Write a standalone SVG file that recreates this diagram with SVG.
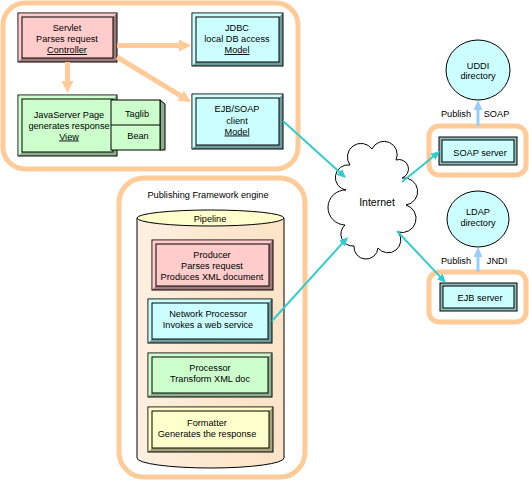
<svg xmlns="http://www.w3.org/2000/svg" width="529" height="480" viewBox="0 0 529 480">
<defs>
<style>
text{font-family:"Liberation Sans",Arial,sans-serif;font-size:9.2px;text-anchor:middle;fill:#000}
.u{text-decoration:underline}
.cont{fill:none;stroke:#FFCC99;stroke-width:5}
.ln{stroke:#000;stroke-width:1}
.pk{fill:#FFCCCC}.pkd{fill:#A07A7A}
.cy{fill:#CCFFFF}.cyd{fill:#6E9C9C}
.gr{fill:#CCFFCC}.grd{fill:#8DAF8D}
.ye{fill:#FFFFCC}.yed{fill:#A3A37A}
.pa{stroke:#FFCC99;stroke-width:5;fill:none}
.ca{stroke:#33CCCC;stroke-width:2;fill:none}
.ba{stroke:#99CCFF;stroke-width:3;fill:none}
</style>
<marker id="mp" markerUnits="userSpaceOnUse" markerWidth="12" markerHeight="12" refX="4" refY="6" orient="auto"><path d="M0,0 L12,6 L0,12 z" fill="#FFCC99"/></marker>
<marker id="mc" markerUnits="userSpaceOnUse" markerWidth="9" markerHeight="8" refX="2" refY="4" orient="auto"><path d="M0,0 L9,4 L0,8 z" fill="#33CCCC"/></marker>
<marker id="mb" markerUnits="userSpaceOnUse" markerWidth="10" markerHeight="9" refX="3" refY="4.5" orient="auto"><path d="M0,0 L10,4.5 L0,9 z" fill="#99CCFF"/></marker>
<linearGradient id="cyl" x1="0" y1="0" x2="1" y2="0"><stop offset="0" stop-color="#FEF0E0"/><stop offset="0.5" stop-color="#FCE8D0"/><stop offset="1" stop-color="#FBE4C8"/></linearGradient>
</defs>

<g id="containers">
<rect class="cont" x="3" y="3" width="295" height="166" rx="22"/>
<rect class="cont" x="119" y="178" width="186" height="299" rx="25"/>
<rect class="cont" x="429" y="126" width="97" height="49" rx="10"/>
<rect class="cont" x="429" y="272" width="97" height="50" rx="10"/>
</g>

<g id="servlet">
<rect class="pkd ln" x="18" y="13" width="99" height="49"/>
<polygon class="pk" points="18.5,13.5 116.5,13.5 113,17 22,17 22,58 18.5,61.5"/>
<rect class="pk ln" x="22" y="17" width="91" height="41"/>
<text x="67" y="30.5">Servlet</text>
<text x="67" y="42">Parses request</text>
<text x="67" y="53" class="u">Controller</text>
</g>

<g id="jdbc">
<rect class="cyd ln" x="192" y="13" width="91" height="53"/>
<polygon class="cy" points="192.5,13.5 282.5,13.5 279,17 196,17 196,62 192.5,65.5"/>
<rect class="cy ln" x="196" y="17" width="83" height="45"/>
<text x="237" y="30.5">JDBC</text>
<text x="237" y="42">local DB access</text>
<text x="237" y="53" class="u">Model</text>
</g>

<g id="ejbsoap">
<rect class="cyd ln" x="192" y="94" width="91" height="55"/>
<polygon class="cy" points="192.5,94.5 282.5,94.5 279,98 196,98 196,145 192.5,148.5"/>
<rect class="cy ln" x="196" y="98" width="83" height="47"/>
<text x="237" y="112">EJB/SOAP</text>
<text x="237" y="123.5">client</text>
<text x="237" y="134.5" class="u">Model</text>
</g>

<g id="jsp">
<rect class="grd ln" x="18" y="95" width="99" height="61"/>
<polygon class="gr" points="18.5,95.5 116.5,95.5 113,99 22,99 22,152 18.5,155.5"/>
<rect class="gr ln" x="22" y="99" width="91" height="53"/>
<text x="69" y="117.5">JavaServer Page</text>
<text x="69" y="128.5">generates response</text>
<text x="69" y="139.5" class="u">View</text>
</g>

<g id="taglib">
<polygon class="grd ln" points="160,100 165,104 165,150 160,150"/>
<rect class="gr ln" x="111" y="100" width="49" height="50"/>
<line class="ln" x1="111" y1="125" x2="160" y2="125"/>
<text x="137" y="117">Taglib</text>
<text x="138" y="139">Bean</text>
</g>

<g id="engine">
<text x="208" y="198">Publishing Framework engine</text>
<path d="M137,218 L137,458 A73.5,10 0 0 0 284,458 L284,218 Z" fill="url(#cyl)" stroke="#000" stroke-width="1"/>
<ellipse cx="210.5" cy="218" rx="73.5" ry="8" class="ye ln"/>
<text x="210" y="221.5">Pipeline</text>
</g>

<g id="producer">
<rect class="pkd ln" x="152" y="240" width="121" height="50"/>
<polygon class="pk" points="152.5,240.5 272.5,240.5 269,244 156,244 156,286 152.5,289.5"/>
<rect class="pk ln" x="156" y="244" width="113" height="42"/>
<text x="212" y="257.5">Producer</text>
<text x="212" y="268.5">Parses request</text>
<text x="212" y="279.5">Produces XML document</text>
</g>

<g id="netproc">
<rect class="cyd ln" x="148" y="299" width="124" height="44"/>
<polygon class="cy" points="148.5,299.5 271.5,299.5 268,303 152,303 152,339 148.5,342.5"/>
<rect class="cy ln" x="152" y="303" width="116" height="36"/>
<text x="208" y="316.5">Network Processor</text>
<text x="208" y="327.5">Invokes a web service</text>
</g>

<g id="processor">
<rect class="grd ln" x="148" y="353" width="124" height="44"/>
<polygon class="gr" points="148.5,353.5 271.5,353.5 268,357 152,357 152,393 148.5,396.5"/>
<rect class="gr ln" x="152" y="357" width="116" height="36"/>
<text x="210" y="371">Processor</text>
<text x="210" y="382">Transform XML doc</text>
</g>

<g id="formatter">
<rect class="yed ln" x="148" y="407" width="125" height="45"/>
<polygon class="ye" points="148.5,407.5 272.5,407.5 269,411 152,411 152,448 148.5,451.5"/>
<rect class="ye ln" x="152" y="411" width="117" height="37"/>
<text x="207" y="425.5">Formatter</text>
<text x="207" y="436.5">Generates the response</text>
</g>

<g id="internet">
<path d="M350,165 A13,13 0 0 1 372,149 A12,12 0 0 1 396,160 A9,9 0 0 1 402,178 A12,12 0 0 1 406,205 A10,10 0 0 1 398,232 A12,12 0 0 1 378,248 A12,12 0 0 1 354,246 A12,12 0 0 1 345,225 A14,14 0 0 1 346,190 A12,12 0 0 1 350,165 Z" fill="#fff" stroke="#000" stroke-width="1"/>
<text x="377" y="205.5" style="font-size:10.5px">Internet</text>
</g>

<g id="uddi">
<ellipse cx="478" cy="70" rx="32" ry="30" class="cy ln"/>
<text x="478" y="68.5">UDDI</text>
<text x="478" y="79">directory</text>
</g>

<g id="ldap">
<ellipse cx="478" cy="219" rx="31" ry="28" class="cy ln"/>
<text x="478" y="214.5">LDAP</text>
<text x="478" y="225.5">directory</text>
</g>

<g id="soapserver">
<rect x="439" y="137" width="78" height="28" fill="#8FBFBF" class="ln"/>
<rect x="442" y="140" width="72" height="22" class="cy ln"/>
<text x="480" y="155.5">SOAP server</text>
</g>

<g id="ejbserver">
<rect x="440" y="283" width="77" height="28" fill="#8FBFBF" class="ln"/>
<rect x="443" y="286" width="71" height="22" class="cy ln"/>
<text x="480" y="300.5">EJB server</text>
</g>

<g id="connectors">
<line class="pa" x1="117" y1="45.5" x2="183" y2="45.5" marker-end="url(#mp)"/>
<line class="pa" x1="67.5" y1="62" x2="67.5" y2="85" marker-end="url(#mp)"/>
<line class="pa" x1="117" y1="57" x2="184.2" y2="97.8" marker-end="url(#mp)"/>
<line class="ca" x1="283" y1="121" x2="340.8" y2="173.3" marker-end="url(#mc)"/>
<line class="ca" x1="402" y1="182" x2="434.6" y2="155.4" marker-end="url(#mc)"/>
<line class="ca" x1="397" y1="231" x2="441.2" y2="277.9" marker-end="url(#mc)"/>
<line class="ca" x1="272" y1="321" x2="343.3" y2="242.2" marker-end="url(#mc)"/>
<line class="ba" x1="478" y1="126" x2="478" y2="107" marker-end="url(#mb)"/>
<line class="ba" x1="478" y1="272" x2="478" y2="254" marker-end="url(#mb)"/>
<text x="456" y="116.5">Publish</text>
<text x="496.5" y="116.5">SOAP</text>
<text x="456" y="263.5">Publish</text>
<text x="497" y="263.5">JNDI</text>
</g>
</svg>
